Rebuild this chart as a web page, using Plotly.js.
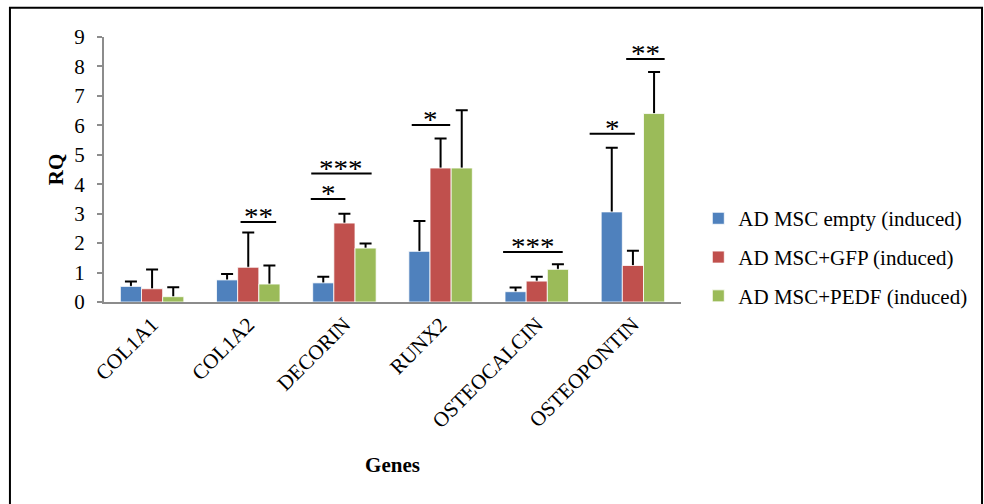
<!DOCTYPE html>
<html>
<head>
<meta charset="utf-8">
<script src="https://cdn.plot.ly/plotly-3.0.1.min.js"></script>
<style>
  html, body { margin: 0; padding: 0; background: #ffffff; }
  #chart { width: 984px; height: 504px; }
</style>
</head>
<body>
<div id="chart"></div>
<script>
// Relative expression (RQ) of osteogenic marker genes
var genes = ["COL1A1", "COL1A2", "DECORIN", "RUNX2", "OSTEOCALCIN", "OSTEOPONTIN"];

var seriesNames = ["AD MSC empty (induced)", "AD MSC+GFP (induced)", "AD MSC+PEDF (induced)"];
var seriesColors = ["#4F81BD", "#C0504D", "#9BBB59"];

var emptyRQ = [0.53, 0.75, 0.65, 1.72, 0.35, 3.06];
var emptyErr = [0.17, 0.20, 0.21, 1.03, 0.14, 2.18];

var gfpRQ = [0.45, 1.18, 2.68, 4.55, 0.71, 1.24];
var gfpErr = [0.65, 1.18, 0.32, 1.00, 0.15, 0.50];

var pedfRQ = [0.18, 0.61, 1.83, 4.55, 1.11, 6.40];
var pedfErr = [0.32, 0.63, 0.16, 1.96, 0.17, 1.41];

// Significance brackets: span in category units, height in RQ units
var sigStart = [0.92, 1.65, 1.655, 2.70, 3.65, 4.55, 4.93];
var sigEnd = [1.29, 2.01, 2.283, 3.10, 4.27, 5.02, 5.33];
var sigLevel = [2.72, 3.50, 4.36, 6.01, 1.70, 5.71, 8.25];
var sigLabel = ["**", "*", "***", "*", "***", "*", "**"];

var values = [emptyRQ, gfpRQ, pedfRQ];
var errors = [emptyErr, gfpErr, pedfErr];

var serif = "Liberation Serif";
var traces = [];

// Error whiskers sit on an underlying subplot so the coloured bars hide the part inside them
for (var i = 0; i < 3; i++) {
  traces.push({
    type: "bar",
    x: genes,
    y: values[i],
    xaxis: "x",
    yaxis: "y",
    showlegend: false,
    hoverinfo: "skip",
    marker: { color: "rgba(0,0,0,0)", line: { width: 0 } },
    error_y: {
      type: "data",
      symmetric: false,
      array: errors[i],
      arrayminus: values[i],
      color: "#000000",
      thickness: 2,
      width: 6
    }
  });
}

for (var j = 0; j < 3; j++) {
  traces.push({
    type: "bar",
    name: seriesNames[j],
    legendgroup: "g" + j,
    x: genes,
    y: values[j],
    xaxis: "x2",
    yaxis: "y",
    marker: { color: seriesColors[j], line: { color: "#ffffff", width: 0.8 } }
  });
}

var shapes = [
  // outer frame of the figure
  {
    type: "rect", xref: "paper", yref: "paper",
    x0: -0.163, x1: 1.5217, y0: -2, y1: 1.1106,
    line: { color: "#000000", width: 2 }, fillcolor: "rgba(0,0,0,0)", layer: "below"
  }
];
var annotations = [];

for (var k = 0; k < sigLabel.length; k++) {
  shapes.push({
    type: "line", xref: "x", yref: "y",
    x0: sigStart[k], x1: sigEnd[k], y0: sigLevel[k], y1: sigLevel[k],
    line: { color: "#000000", width: 2 }
  });
  annotations.push({
    xref: "x", yref: "y",
    x: (sigStart[k] + sigEnd[k]) / 2, y: sigLevel[k],
    text: sigLabel[k],
    showarrow: false,
    xanchor: "center", yanchor: "bottom",
    height: 14,
    valign: "middle",
    yshift: -2,
    borderpad: 0,
    font: { family: serif, size: 29, color: "#000000" }
  });
}

var layout = {
  width: 984,
  height: 504,
  margin: { l: 104, r: 303, t: 37, b: 202, pad: 0 },
  paper_bgcolor: "#ffffff",
  plot_bgcolor: "#ffffff",
  barmode: "group",
  bargap: 0.34,
  bargroupgap: 0,
  font: { family: serif, size: 21, color: "#000000" },
  xaxis: {
    type: "category",
    showline: true,
    linecolor: "#8c8c8c",
    linewidth: 2,
    ticks: "",
    tickangle: -45,
    tickfont: { family: serif, size: 21, color: "#000000" },
    showgrid: false,
    zeroline: false,
    title: { text: "Genes", font: { family: serif, size: 21, color: "#000000", weight: "bold" }, standoff: 26 }
  },
  xaxis2: {
    type: "category",
    overlaying: "x",
    matches: "x",
    showline: false,
    showticklabels: false,
    ticks: "",
    showgrid: false,
    zeroline: false
  },
  yaxis: {
    range: [0, 9],
    dtick: 1,
    tick0: 0,
    showline: true,
    linecolor: "#8c8c8c",
    linewidth: 2,
    ticks: "outside",
    ticklen: 5,
    tickwidth: 2,
    tickcolor: "#8c8c8c",
    ticklabelstandoff: 8,
    tickfont: { family: serif, size: 21, color: "#000000" },
    showgrid: false,
    zeroline: false,
    title: { text: "RQ", font: { family: serif, size: 21, color: "#000000", weight: "bold" }, standoff: 5 }
  },
  legend: {
    x: 1.03,
    xanchor: "left",
    y: 0.392,
    yanchor: "top",
    traceorder: "grouped",
    tracegroupgap: 8.5,
    itemwidth: 30,
    font: { family: serif, size: 21, color: "#000000" },
    bgcolor: "rgba(0,0,0,0)",
    borderwidth: 0
  },
  shapes: shapes,
  annotations: annotations,
  showlegend: true
};

Plotly.newPlot("chart", traces, layout, { displayModeBar: false, staticPlot: true });
</script>
</body>
</html>
